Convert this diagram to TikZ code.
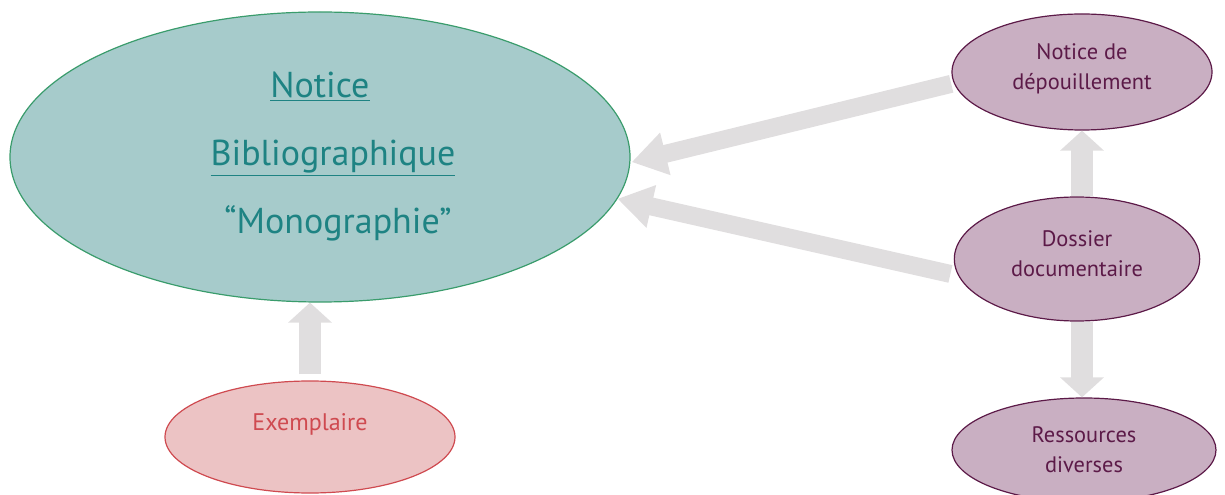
\documentclass[tikz,border=0pt]{standalone}
\usepackage{fontspec}
\setmainfont{PT Sans}
\usetikzlibrary{shapes.geometric,arrows.meta}
\definecolor{mainfill}{HTML}{A6CBCB}
\definecolor{mainline}{HTML}{3A9C6C}
\definecolor{maintext}{HTML}{1E8383}
\definecolor{plumfill}{HTML}{C9AFC2}
\definecolor{plumline}{HTML}{5C1A48}
\definecolor{rosefill}{HTML}{ECC3C4}
\definecolor{roseline}{HTML}{CF4A50}
\definecolor{arrowgray}{HTML}{E0DEDF}
\begin{document}
\begin{tikzpicture}[x=0.75pt,y=-0.75pt,
    bubble/.style={ellipse,draw,line width=0.9pt,inner sep=0pt,align=center},
    plum/.style={bubble,fill=plumfill,draw=plumline,text=plumline,font=\fontsize{16.8}{22.5}\selectfont},
    fatdiag/.style={draw=arrowgray,line width=13.5pt,-{Triangle[width=31pt,length=26pt]}},
    fatvert/.style={draw=arrowgray,line width=16pt,-{Triangle[width=32pt,length=15pt]}}]
    \useasboundingbox (0,0) rectangle (1225,495);
    \node[bubble,fill=mainfill,draw=mainline,text=maintext,minimum width=465pt,minimum height=217.5pt,
        font=\fontsize{27}{51}\selectfont] (notice) at (320,157)
        {\underline{Notice}\\\hspace*{19.5pt}\underline{Bibliographique}\\\hspace*{27pt}“Monographie”};
    \node[plum,minimum width=195pt,minimum height=87pt,text depth=8pt] (depouil) at (1082,72) {Notice de\\dépouillement};
    \node[plum,minimum width=184pt,minimum height=93pt,text depth=8pt] (dossier) at (1077,259) {Dossier\\documentaire};
    \node[plum,minimum width=198pt,minimum height=78pt] (ressources) at (1084,450) {Ressources\\diverses};
    \node[bubble,fill=rosefill,draw=roseline,text=roseline,minimum width=217.5pt,minimum height=84pt,
        font=\fontsize{18}{22}\selectfont,text height=13pt,text depth=23.5pt] (exemplaire) at (310,437) {Exemplaire};
    \draw[fatdiag,shorten <=2pt,shorten >=1pt] (depouil.185) -- (notice.-1);
    \draw[fatdiag,shorten <=6pt,shorten >=0pt] (dossier.188) -- (notice.-8);
    \draw[fatvert] (dossier.north -| depouil.south) -- (depouil.south);
    \draw[fatvert] (dossier.south -| depouil.south) -- (ressources.north -| depouil.south);
    \draw[fatvert,shorten <=4.5pt] (exemplaire.north) -- (exemplaire.north |- notice.south);
\end{tikzpicture}
\end{document}
